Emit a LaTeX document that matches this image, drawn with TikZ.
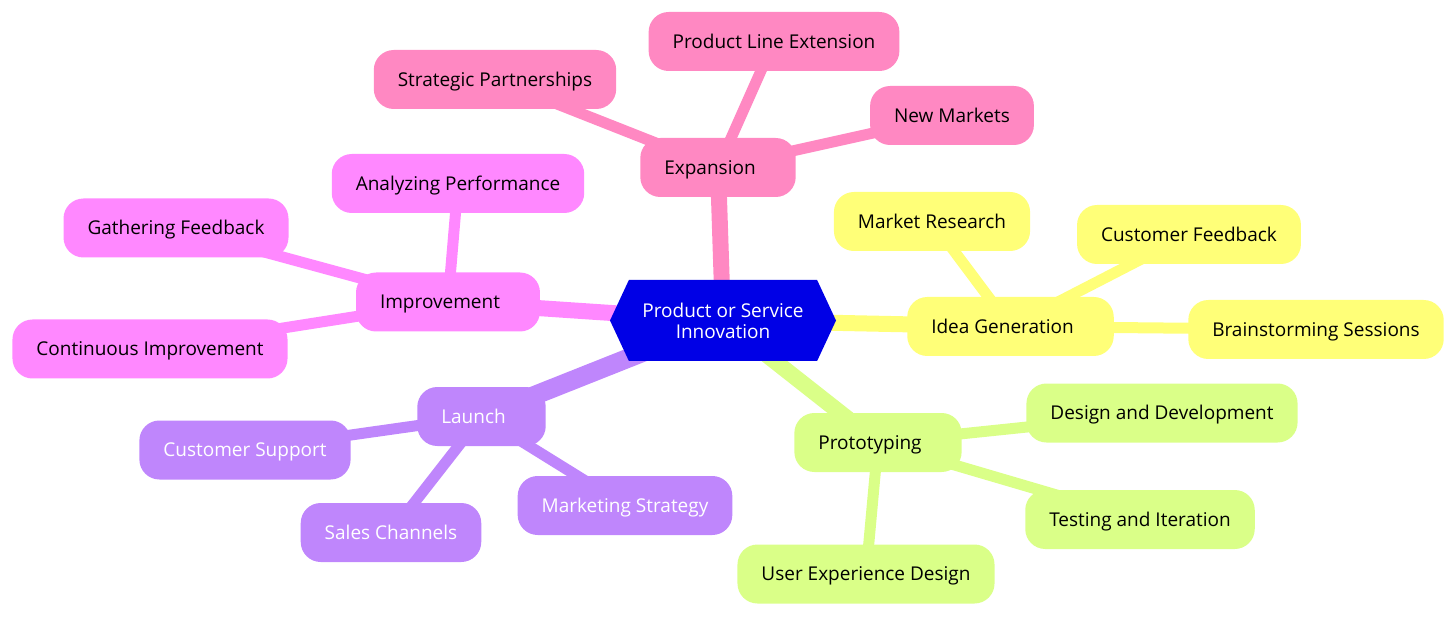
\documentclass[tikz,border=0pt]{standalone}
\usepackage{fontspec}
\setmainfont{Open Sans}
\usepackage{xcolor}
\usetikzlibrary{shapes.symbols,backgrounds}

\definecolor{rootblue}{RGB}{0,0,230}
\definecolor{expink}{RGB}{255,136,194}
\definecolor{impmagenta}{RGB}{255,136,255}
\definecolor{lnpurple}{RGB}{191,134,252}
\definecolor{ideayellow}{RGB}{255,255,120}
\definecolor{protgreen}{RGB}{218,255,136}

\begin{document}
\begin{tikzpicture}[x=1pt,y=1pt,yscale=-1,
  leaf/.style={rounded corners=20pt,inner xsep=24pt,inner ysep=0pt,minimum height=59pt,text height=18pt,text depth=4.4pt,font=\fontsize{19}{22}\selectfont},
  branch/.style={leaf,execute at end node={\hspace{16pt}}},
  trunk/.style={line width=16pt},
  twig/.style={line width=11pt}]

\useasboundingbox (0,0) rectangle (1456,617);

\node (root) [shape=signal,signal to=west and east,signal pointer angle=130,fill=rootblue,text=white,minimum width=226pt,minimum height=81pt,inner sep=0pt,align=center,font=\fontsize{19}{21}\selectfont] at (723,320.5) {Product or Service\\Innovation};

\node (exp) [branch,fill=expink] at (718,167.5) {Expansion};
\node (prodline) [leaf,fill=expink] at (774,41.5) {Product Line Extension};
\node (partner) [leaf,fill=expink] at (495,79.5) {Strategic Partnerships};
\node (newmkt) [leaf,fill=expink] at (952,115.5) {New Markets};

\node (imp) [branch,fill=impmagenta] at (448,302) {Improvement};
\node (analyze) [leaf,fill=impmagenta] at (458,183.5) {Analyzing Performance};
\node (gather) [leaf,fill=impmagenta] at (176,228) {Gathering Feedback};
\node (contimp) [leaf,fill=impmagenta] at (150,349) {Continuous Improvement};

\node (launch) [branch,fill=lnpurple,text=white] at (481.5,416.5) {Launch};
\node (support) [leaf,fill=lnpurple,text=white] at (245,450) {Customer Support};
\node (sales) [leaf,fill=lnpurple,text=white] at (391,532.5) {Sales Channels};
\node (mktstrat) [leaf,fill=lnpurple,text=white] at (625,505.5) {Marketing Strategy};

\node (idea) [branch,fill=ideayellow] at (1010.5,326.5) {Idea Generation};
\node (research) [leaf,fill=ideayellow] at (932,221.5) {Market Research};
\node (custfb) [leaf,fill=ideayellow] at (1189,234.5) {Customer Feedback};
\node (brainstorm) [leaf,fill=ideayellow] at (1316,329.5) {Brainstorming Sessions};

\node (proto) [branch,fill=protgreen] at (878,442.5) {Prototyping};
\node (design) [leaf,fill=protgreen] at (1162,413) {Design and Development};
\node (testing) [leaf,fill=protgreen] at (1140,519.5) {Testing and Iteration};
\node (ux) [leaf,fill=protgreen] at (866,574) {User Experience Design};

\begin{scope}[on background layer]
\draw[trunk,expink] (root.center) -- (exp.center);
\draw[twig,expink] (exp.center) -- (prodline.center);
\draw[twig,expink] (exp.center) -- (partner.center);
\draw[twig,expink] (exp.center) -- (newmkt.center);

\draw[trunk,impmagenta] (root.center) -- (imp.center);
\draw[twig,impmagenta] (imp.center) -- (analyze.center);
\draw[twig,impmagenta] (imp.center) -- (gather.center);
\draw[twig,impmagenta] (imp.center) -- (contimp.center);

\draw[trunk,lnpurple,line width=19pt] (root.center) -- (launch.center);
\draw[twig,lnpurple] (launch.center) -- (support.center);
\draw[twig,lnpurple] (launch.center) -- (sales.center);
\draw[twig,lnpurple] (launch.center) -- (mktstrat.center);

\draw[trunk,ideayellow] (root.center) -- (idea.center);
\draw[twig,ideayellow] (idea.center) -- (research.center);
\draw[twig,ideayellow] (idea.center) -- (custfb.center);
\draw[twig,ideayellow] (idea.center) -- (brainstorm.center);

\draw[trunk,protgreen] (root.center) -- (proto.center);
\draw[twig,protgreen] (proto.center) -- (design.center);
\draw[twig,protgreen] (proto.center) -- (testing.center);
\draw[twig,protgreen] (proto.center) -- (ux.center);
\end{scope}

\end{tikzpicture}
\end{document}
